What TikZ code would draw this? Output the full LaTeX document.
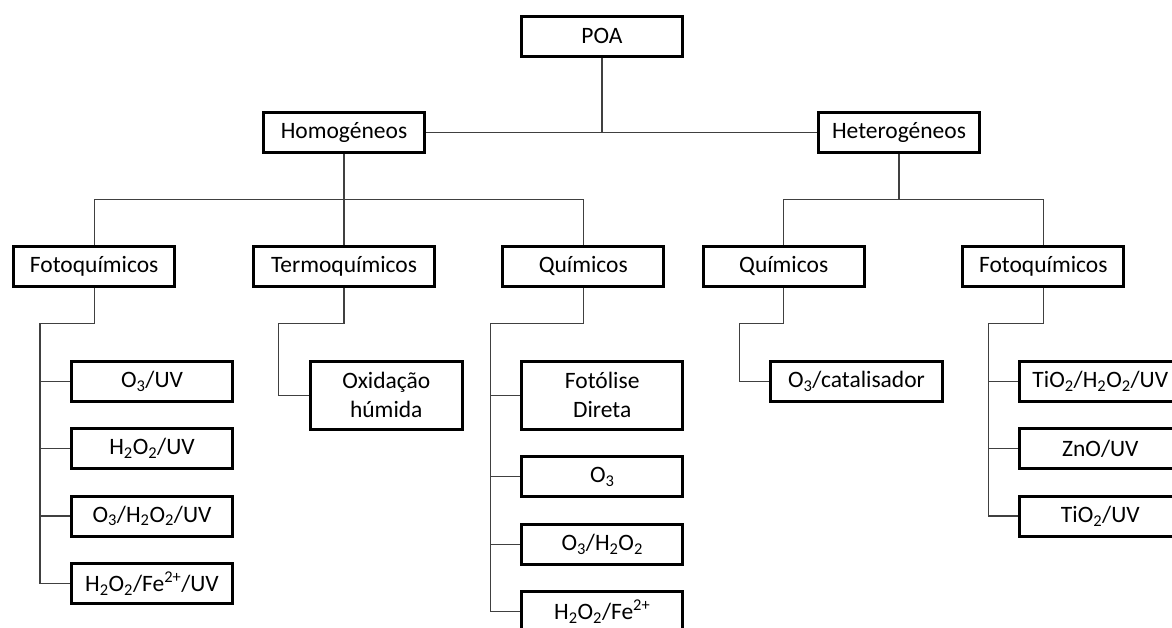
\documentclass[tikz,border=0pt]{standalone}
\usepackage{fontspec}
\setmainfont{Carlito}
\usetikzlibrary{positioning}

\begin{document}
\begin{tikzpicture}[
        x=1pt, y=-1pt,
        font=\fontsize{23.5}{29}\selectfont,
        box/.style={draw, line width=3pt, align=center, minimum width=161pt, minimum height=40pt, inner sep=2pt},
        link/.style={draw=black!75, line width=1.3pt},
        node distance=24.4pt
    ]
    \clip (0,0) rectangle (1172,628);

    % upper levels
    \node[box] (poa) at (602,36.3) {POA};
    \node[box] (hom) at (344,132.4) {Homogéneos};
    \node[box] (het) at (899,132.4) {Heterogéneos};
    \node[box] (foto1) at (94.2,266.2) {Fotoquímicos};
    \node[box, minimum width=181pt] (termo) at (344,266.2) {Termoquímicos};
    \node[box] (quim1) at (583.3,266.2) {Químicos};
    \node[box] (quim2) at (783.7,266.2) {Químicos};
    \node[box] (foto2) at (1043.3,266.2) {Fotoquímicos};

    % processes
    \node[box] (a1) at (152,381.2) {O\textsubscript{3}/UV};
    \node[box, below=of a1] (a2) {H\textsubscript{2}O\textsubscript{2}/UV};
    \node[box, below=of a2] (a3) {O\textsubscript{3}/H\textsubscript{2}O\textsubscript{2}/UV};
    \node[box, below=of a3] (a4) {H\textsubscript{2}O\textsubscript{2}/Fe\textsuperscript{2+}/UV};

    \node[box, minimum width=152pt, minimum height=68pt] (ox) at (386.3,395.3) {Oxidação\\húmida};

    \node[box, minimum height=68pt] (b1) at (602.2,395.3) {Fotólise\\Direta};
    \node[box, below=24.5pt of b1] (b2) {O\textsubscript{3}};
    \node[box, below=24.5pt of b2] (b3) {O\textsubscript{3}/H\textsubscript{2}O\textsubscript{2}};
    \node[box, below=24.5pt of b3] (b4) {H\textsubscript{2}O\textsubscript{2}/Fe\textsuperscript{2+}};

    \node[box, minimum width=171.6pt] (c1) at (856.5,381.2) {O\textsubscript{3}/catalisador};

    \node[box] (d1) at (1100.3,381.2) {TiO\textsubscript{2}/H\textsubscript{2}O\textsubscript{2}/UV};
    \node[box, below=of d1] (d2) {ZnO/UV};
    \node[box, below=of d2] (d3) {TiO\textsubscript{2}/UV};

    % connectors
    \draw[link] (poa.south) -- (poa.south |- hom.east);
    \draw[link] (hom.east) -- (het.west);
    \draw[link] (hom.south) -- (termo.north);
    \path (hom.south) -- ++(0,45.5) coordinate (hb);
    \draw[link] (foto1.north) |- (hb) -| (quim1.north);
    \draw[link] (het.south) -- ++(0,45.5) coordinate (eb);
    \draw[link] (quim2.north) |- (eb) -| (foto2.north);

    \draw[link] (foto1.south) -- ++(0,36) -| ([xshift=-30pt]a4.west) -- (a4.west);
    \foreach \n in {a1,a2,a3}
        \draw[link] ([xshift=-30pt]\n.west) -- (\n.west);
    \draw[link] (termo.south) -- ++(0,36) -| ([xshift=-30pt]ox.west) -- (ox.west);
    \draw[link] (quim1.south) -- ++(0,36) -| ([xshift=-30pt]b4.west) -- (b4.west);
    \foreach \n in {b1,b2,b3}
        \draw[link] ([xshift=-30pt]\n.west) -- (\n.west);
    \draw[link] (quim2.south) -- ++(0,36) -| ([xshift=-30pt]c1.west) -- (c1.west);
    \draw[link] (foto2.south) -- ++(0,36) -| ([xshift=-30pt]d3.west) -- (d3.west);
    \foreach \n in {d1,d2}
        \draw[link] ([xshift=-30pt]\n.west) -- (\n.west);
\end{tikzpicture}
\end{document}
